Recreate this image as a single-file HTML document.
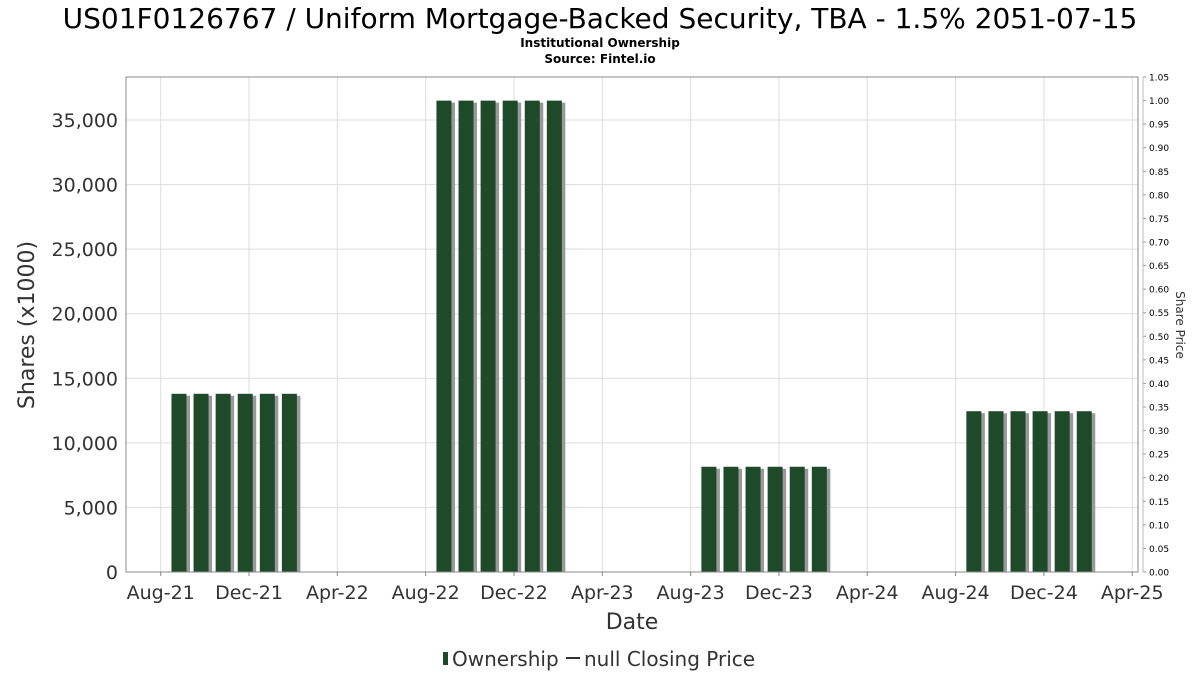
<!DOCTYPE html>
<html><head><meta charset="utf-8"><style>
body{margin:0;background:#fff;width:1200px;height:675px;overflow:hidden}
svg{font-family:"DejaVu Sans","Liberation Sans",sans-serif}
</style></head><body>
<svg id="chart" width="1200" height="675">
<text x="600" y="28" text-anchor="middle" font-size="28" fill="#000">US01F0126767 / Uniform Mortgage-Backed Security, TBA - 1.5% 2051-07-15</text>
<text x="600" y="47" text-anchor="middle" font-size="12" font-weight="bold">Institutional Ownership</text>
<text x="600" y="63" text-anchor="middle" font-size="12" font-weight="bold">Source: Fintel.io</text>
<g id="grid"></g><g id="bars"></g><g id="axes"></g>
<text transform="translate(34,325) rotate(-90)" text-anchor="middle" font-size="22" fill="#333">Shares (x1000)</text>
<text transform="translate(1176,325) rotate(90)" text-anchor="middle" font-size="12" fill="#333">Share Price</text>
<text x="632" y="629" text-anchor="middle" font-size="22" fill="#333">Date</text>
<g>
<rect x="443" y="652" width="5" height="13" fill="#1e4a2a"/>
<text x="452" y="666" font-size="20" fill="#333">Ownership</text>
<line x1="566" y1="658" x2="580" y2="658" stroke="#333" stroke-width="2"/>
<text x="584" y="666" font-size="20" fill="#333">null Closing Price</text>
</g>
</svg>
<script>
const months=["2021-09","2021-10","2021-11","2021-12","2022-01","2022-02","2022-09","2022-10","2022-11","2022-12","2023-01","2023-02","2023-09","2023-10","2023-11","2023-12","2024-01","2024-02","2024-09","2024-10","2024-11","2024-12","2025-01","2025-02"];
const shares=[13800,13800,13800,13800,13800,13800,36500,36500,36500,36500,36500,36500,8150,8150,8150,8150,8150,8150,12450,12450,12450,12450,12450,12450];
const yTicks=[0,5000,10000,15000,20000,25000,30000,35000];
const xTickLabels=["Aug-21","Dec-21","Apr-22","Aug-22","Dec-22","Apr-23","Aug-23","Dec-23","Apr-24","Aug-24","Dec-24","Apr-25"];
const priceTicks=["0.00","0.05","0.10","0.15","0.20","0.25","0.30","0.35","0.40","0.45","0.50","0.55","0.60","0.65","0.70","0.75","0.80","0.85","0.90","0.95","1.00","1.05"];
const L=126,R=1138,T=77,B=572;
const NS="http://www.w3.org/2000/svg";
function mk(t,a,p){const e=document.createElementNS(NS,t);for(const k in a)e.setAttribute(k,a[k]);p.appendChild(e);return e;}
function y(v){return B-v/35000*(B-120);}
function mIdx(s){const[a,b]=s.split("-").map(Number);return (a-2021)*12+(b-8);}
function xm(m){return 160.7+m*22.08;}
function yp(v){return B-v/1.05*(B-T);}
const grid=document.getElementById("grid"),bars=document.getElementById("bars"),axes=document.getElementById("axes");
yTicks.forEach(v=>{const g=mk("line",{x1:L,x2:R,y1:y(v),y2:y(v),stroke:"#ddd"},grid);

const t=mk("text",{x:L-8,y:y(v)+7,"text-anchor":"end","font-size":19,fill:"#333"},axes);t.textContent=v.toLocaleString("en-US");
});
xTickLabels.forEach((lab,i)=>{const x=xm(i*4);
const g=mk("line",{x1:x,x2:x,y1:T,y2:B,stroke:"#ddd"},grid);

mk("line",{x1:x,x2:x,y1:B,y2:B+4,stroke:"#888"},axes);
const t=mk("text",{x:x,y:B+27,"text-anchor":"middle","font-size":19,fill:"#333"},axes);t.textContent=lab;
});
priceTicks.forEach(p=>{const yy=yp(parseFloat(p));
mk("line",{x1:1143,x2:1146,y1:yy,y2:yy,stroke:"#999"},axes);
const t=mk("text",{x:1149,y:yy+3.5,"font-size":9,fill:"#000"},axes);t.textContent=p;
});
mk("rect",{x:L,y:T,width:R-L,height:B-T,fill:"none",stroke:"#888"},axes);
mk("line",{x1:1143,x2:1143,y1:T,y2:B,stroke:"#bbb"},axes);
months.forEach((m,i)=>{const cx=xm(mIdx(m))-3.8,top=y(shares[i]);
mk("rect",{x:cx-7+3,y:top+2,width:15,height:B-top-2,fill:"#999"},bars);
const b=mk("rect",{x:cx-7.5,y:top,width:15,height:B-top,fill:"#1e4a2a"},bars);
});
</script>
</body></html>
